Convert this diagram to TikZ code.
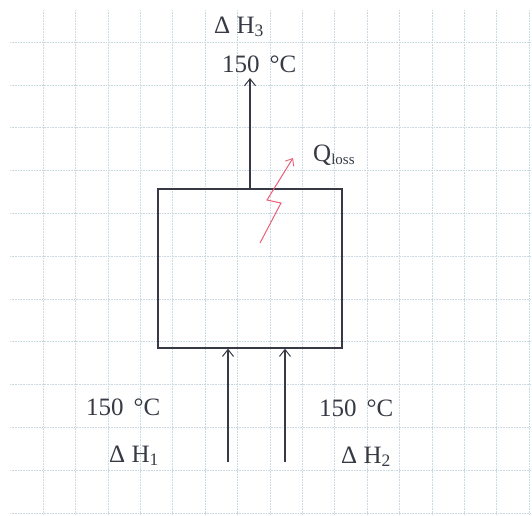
\documentclass[tikz,border=0pt]{standalone}
\usepackage{fontspec}
\setmainfont{Liberation Serif}
\usetikzlibrary{arrows.meta}
\definecolor{gridc}{RGB}{200,216,226}
\definecolor{ink}{RGB}{55,58,68}
\definecolor{flash}{RGB}{235,95,120}
\begin{document}
\begin{tikzpicture}[x=1pt,y=-1pt,
  lbl/.style={anchor=base west,inner sep=0pt,text=ink,font=\fontsize{25}{28}\selectfont},
  flow/.style={draw=ink,line width=1.2pt,-{Straight Barb[length=7pt,width=11pt,line width=1pt]}},
  unit/.style={draw=ink,line width=1.3pt,minimum width=184pt,minimum height=159pt,inner sep=0pt}]
\useasboundingbox (0,0) rectangle (532,515);
\fill[white] (0,0) rectangle (532,515);
% grid
\foreach \gx in {43,75.4,...,530}{\draw[gridc,densely dotted,line width=0.6pt] (\gx,10) -- (\gx,515);}
\foreach \gy in {42,84.8,...,515}{\draw[gridc,densely dotted,line width=0.6pt] (10,\gy) -- (532,\gy);}
% unit
\node[unit] (box) at (250,268.5) {};
\coordinate (out) at (250,78);
\coordinate (in1) at (228,462);
\coordinate (in2) at (285,462);
\draw[flow] (box.north) -- (out);
\draw[flow] (in1) -- (in1 |- box.south);
\draw[flow] (in2) -- (in2 |- box.south);
% heat loss
\coordinate (q0) at (260,243);
\coordinate (q1) at (281,203);
\coordinate (q2) at (267,200);
\coordinate (q3) at (293,158);
\draw[flash,line width=1pt,-{Straight Barb[length=6pt,width=10pt,line width=0.9pt]}] (q0) -- (q1) -- (q2) -- (q3);
% labels
\node[lbl] (h3) at (214,33) {Δ H\textsubscript{3}};
\node[lbl] (t3) at (222,72) {150\hspace{10pt}°C};
\node[lbl] (ql) at (313,161) {Q\textsubscript{\fontsize{15}{16}\selectfont loss}};
\node[lbl] (t1) at (86,415) {150\hspace{10pt}°C};
\node[lbl] (h1) at (109,462) {Δ H\textsubscript{1}};
\node[lbl] (t2) at (319,416) {150\hspace{10pt}°C};
\node[lbl] (h2) at (341,463) {Δ H\textsubscript{2}};
\end{tikzpicture}
\end{document}
